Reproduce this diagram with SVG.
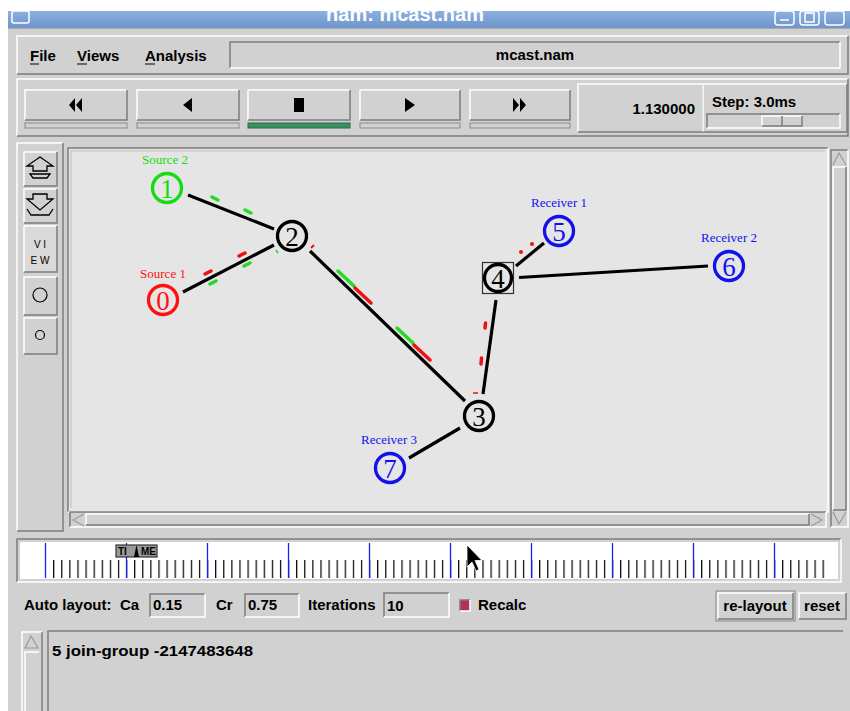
<svg xmlns="http://www.w3.org/2000/svg" width="850" height="711" viewBox="0 0 850 711">
<defs>
<style>
.ui{font-family:"Liberation Sans",Arial,sans-serif;font-weight:bold;font-size:15px;fill:#000}
.num{font-family:"Liberation Serif","Times New Roman",serif;font-size:27px;text-anchor:middle}
.lbl{font-family:"Liberation Serif","Times New Roman",serif;font-size:13px;text-anchor:middle}
.ring{fill:none;stroke-width:3.3}
.link{stroke:#000;stroke-width:3.2;stroke-linecap:butt;fill:none}
.hi{stroke:#fff;fill:none;stroke-width:1.5}
.lo{stroke:#7c7c7c;fill:none;stroke-width:1.5}
.pk{stroke-width:3.5;stroke-linecap:round}
</style>
<linearGradient id="tb" x1="0" y1="0" x2="0" y2="1">
<stop offset="0" stop-color="#8db0e0"/><stop offset="1" stop-color="#6d94cc"/>
</linearGradient>
<clipPath id="tclip"><rect x="8" y="11" width="842" height="17"/></clipPath>
<pattern id="ticks" patternUnits="userSpaceOnUse" x="45" y="560" width="8.1" height="18">
<rect x="0" y="0" width="1.2" height="18" fill="#000"/>
</pattern>
</defs>
<rect width="850" height="711" fill="#fff"/>
<rect x="8" y="11" width="842" height="700" fill="#d1d1d1"/>
<!-- title bar -->
<rect x="8" y="11" width="842" height="17" fill="url(#tb)"/>
<rect x="12" y="11" width="17" height="12" rx="2" fill="none" stroke="#fff" stroke-width="1.5"/>
<text x="405" y="21" clip-path="url(#tclip)" text-anchor="middle" style="font-family:'Liberation Sans',Arial,sans-serif;font-weight:bold;font-size:20px;fill:#fff">nam: mcast.nam</text>
<rect x="775" y="11" width="19" height="14" rx="3" fill="none" stroke="#fff" stroke-width="1.5"/>
<rect x="800" y="11" width="19" height="14" rx="3" fill="none" stroke="#fff" stroke-width="1.5"/>
<rect x="825" y="11" width="19" height="14" rx="3" fill="none" stroke="#fff" stroke-width="1.5"/>
<path d="M780 20h9M805 13h9v9h-9z" stroke="#fff" stroke-width="1.5" fill="none"/>
<line x1="8" y1="28.5" x2="850" y2="28.5" stroke="#aaa"/>
<!-- menu bar -->
<path class="hi" d="M17 74V36H848"/>
<path class="lo" d="M17 74H848V36"/>
<text class="ui" x="30" y="61" font-size="16">File</text>
<text class="ui" x="77" y="61" font-size="16">Views</text>
<text class="ui" x="145" y="61" font-size="16">Analysis</text>
<path d="M30 64h9M77 64h10M145 64h10" stroke="#000" stroke-width="1.2"/>
<rect x="230" y="42" width="610" height="26" fill="#d1d1d1"/>
<path class="lo" d="M230 68V42H840"/>
<path class="hi" d="M230 68H840V42"/>
<text class="ui" x="535" y="60" text-anchor="middle" font-size="14">mcast.nam</text>
<!-- toolbar -->
<path class="hi" d="M17 136V79H848"/>
<path class="lo" d="M17 136H848V79"/>
<g id="btns">
<rect x="25" y="90" width="102" height="30" fill="#d1d1d1"/><path class="hi" d="M25 120V90H127"/><path class="lo" d="M25 120H127V90"/>
<rect x="137" y="90" width="102" height="30" fill="#d1d1d1"/><path class="hi" d="M137 120V90H239"/><path class="lo" d="M137 120H239V90"/>
<rect x="248" y="90" width="102" height="30" fill="#d1d1d1"/><path class="hi" d="M248 120V90H350"/><path class="lo" d="M248 120H350V90"/>
<rect x="360" y="90" width="100" height="30" fill="#d1d1d1"/><path class="hi" d="M360 120V90H460"/><path class="lo" d="M360 120H460V90"/>
<rect x="470" y="90" width="100" height="30" fill="#d1d1d1"/><path class="hi" d="M470 120V90H570"/><path class="lo" d="M470 120H570V90"/>
<rect x="25" y="123" width="102" height="5" fill="#d1d1d1" stroke="#8a8a8a"/>
<rect x="137" y="123" width="102" height="5" fill="#d1d1d1" stroke="#8a8a8a"/>
<rect x="248" y="123" width="102" height="5" fill="#3a9060" stroke="#2a6a48"/>
<rect x="360" y="123" width="100" height="5" fill="#d1d1d1" stroke="#8a8a8a"/>
<rect x="470" y="123" width="100" height="5" fill="#d1d1d1" stroke="#8a8a8a"/>
<path d="M69 105l6-7v14zM76 105l6-7v14zM183 105l9-7v14zM294 98h10v14h-10zM405 98l10 7-10 7zM513 98l6 7-6 7zM520 98l6 7-6 7z" fill="#000"/>
</g>
<rect x="578" y="84" width="125" height="48" fill="#d1d1d1"/><path class="hi" d="M578 132V84H703"/><path class="lo" d="M578 132H703V84"/>
<text class="ui" x="695" y="114" text-anchor="end" font-size="14">1.130000</text>
<rect x="703" y="84" width="144" height="48" fill="#d1d1d1"/><path class="hi" d="M703 132V84H847"/><path class="lo" d="M703 132H847V84"/>
<text class="ui" x="712" y="107" font-size="14">Step: 3.0ms</text>
<rect x="707" y="114" width="133" height="14" fill="#d1d1d1"/><path class="lo" d="M707 128V114H840"/><path class="hi" d="M707 128H840V114"/>
<rect x="762" y="116" width="40" height="10" fill="#d1d1d1"/><path class="hi" d="M762 126V116H802"/><path class="lo" d="M762 126H802V116M782 116V126"/>
<!-- left panel -->
<path class="hi" d="M17 531V143H63"/>
<path class="lo" d="M17 531H63V143"/>
<g id="tools">
<rect x="24" y="152" width="33" height="34" fill="#d1d1d1"/><path class="hi" d="M24 186V152H57"/><path class="lo" d="M24 186H57V152"/>
<path d="M40 157l-13 9h6v5h14v-5h6zM30 174h20l-3 4h-14z" fill="none" stroke="#000" stroke-width="1.3"/>
<rect x="24" y="189" width="33" height="34" fill="#d1d1d1"/><path class="hi" d="M24 223V189H57"/><path class="lo" d="M24 223H57V189"/>
<path d="M33 194h14v5h6l-13 11-13-11h6zM27 209l4 6h18l4-6" fill="none" stroke="#000" stroke-width="1.3"/>
<rect x="24" y="226" width="33" height="46" fill="#dadada"/><path class="hi" d="M24 272V226H57"/><path class="lo" d="M24 272H57V226"/>
<text x="40" y="248" text-anchor="middle" style="font-family:'Liberation Sans',Arial,sans-serif;font-size:10px">V I</text>
<text x="40" y="264" text-anchor="middle" style="font-family:'Liberation Sans',Arial,sans-serif;font-size:10px">E W</text>
<rect x="24" y="277" width="33" height="38" fill="#d1d1d1"/><path class="hi" d="M24 315V277H57"/><path class="lo" d="M24 315H57V277"/>
<circle cx="40" cy="295" r="7" fill="none" stroke="#000" stroke-width="1.2"/>
<rect x="24" y="318" width="33" height="36" fill="#d1d1d1"/><path class="hi" d="M24 354V318H57"/><path class="lo" d="M24 354H57V318"/>
<circle cx="40" cy="335" r="4.5" fill="none" stroke="#000" stroke-width="1.2"/>
</g>
<!-- canvas -->
<rect x="68" y="148" width="760" height="364" fill="#e5e5e5"/>
<path class="lo" d="M68 512V148H828"/>
<path class="hi" d="M68 512H828V148"/>
<path d="M71 508V151H825" stroke="#bdbdbd" fill="none"/>
<!-- h scrollbar -->
<rect x="70" y="512" width="756" height="15" fill="#d1d1d1"/>
<path class="lo" d="M70 527V512H826"/><path class="hi" d="M70 527H826V512"/>
<rect x="86" y="514" width="723" height="11" fill="#d1d1d1"/><path class="hi" d="M86 525V514H809"/><path class="lo" d="M86 525H809V514"/>
<path d="M84 514l-11 6 11 6M811 514l11 6-11 6" fill="none" stroke="#999" stroke-width="1.2"/>
<!-- v scrollbar -->
<rect x="831" y="150" width="17" height="377" fill="#d1d1d1"/>
<path class="lo" d="M831 527V150H848"/><path class="hi" d="M831 527H848V150"/>
<path class="hi" d="M833 510V167H846"/><path class="lo" d="M833 510H846V167"/>
<path d="M833 165l6-12 7 12M833 512l6 12 7-12" fill="none" stroke="#999" stroke-width="1.2"/>
<!-- connectors -->
<g id="links">
<line class="link" x1="188" y1="195" x2="274" y2="229"/>
<line class="link" x1="183" y1="292" x2="274" y2="245"/>
<line class="link" x1="310" y1="251" x2="465" y2="401"/>
<line class="link" x1="483" y1="394" x2="496" y2="300"/>
<line class="link" x1="516" y1="266" x2="544" y2="243"/>
<line class="link" x1="519" y1="277.5" x2="708" y2="266"/>
<line class="link" x1="460" y1="428" x2="409" y2="458"/>
</g>
<g id="packets">
<line class="pk" stroke="#22dd22" x1="212" y1="197" x2="218" y2="200"/>
<line class="pk" stroke="#22dd22" x1="245" y1="210" x2="251" y2="213"/>
<line class="pk" stroke="#ee1111" x1="205" y1="274" x2="211" y2="271"/>
<line class="pk" stroke="#22dd22" x1="210" y1="284" x2="216" y2="281"/>
<line class="pk" stroke="#ee1111" x1="239" y1="256" x2="245" y2="253"/>
<line class="pk" stroke="#22dd22" x1="244" y1="266" x2="250" y2="263"/>
<line stroke="#22dd22" stroke-width="1.5" x1="276" y1="250" x2="278" y2="253"/>
<line stroke="#ee1111" stroke-width="2" x1="311" y1="248" x2="314" y2="245"/>
<line class="pk" stroke="#22dd22" stroke-width="4" stroke-linecap="butt" x1="338" y1="271" x2="354" y2="286"/>
<line class="pk" stroke="#ee1111" stroke-width="4" stroke-linecap="butt" x1="355" y1="288" x2="371" y2="303"/>
<line class="pk" stroke="#22dd22" stroke-width="4" stroke-linecap="butt" x1="397" y1="328" x2="413" y2="343"/>
<line class="pk" stroke="#ee1111" stroke-width="4" stroke-linecap="butt" x1="414" y1="345" x2="430" y2="360"/>
<line class="pk" stroke="#ee1111" x1="485.5" y1="323" x2="485" y2="328"/>
<line class="pk" stroke="#ee1111" x1="481.5" y1="358" x2="481" y2="364"/>
<line stroke="#ee1111" stroke-width="1.5" x1="473" y1="393" x2="478" y2="393"/>
<circle cx="521" cy="252" r="2" fill="#ee1111"/>
<circle cx="532" cy="244" r="2" fill="#ee1111"/>
</g>
<!-- nodes -->
<g id="node0">
<circle class="ring" cx="163" cy="300" r="14.5" stroke="#ff1111"/>
<text class="num" x="163" y="309.5" fill="#ff1111">0</text>
<text class="lbl" x="163" y="278" fill="#ff1111">Source 1</text>
</g>
<g id="node1">
<circle class="ring" cx="167" cy="188" r="14.5" stroke="#11dd11"/>
<text class="num" x="167" y="197.5" fill="#11dd11">1</text>
<text class="lbl" x="165" y="164" fill="#11dd11">Source 2</text>
</g>
<g id="node2">
<circle class="ring" cx="292" cy="236" r="14.5" stroke="#000"/>
<text class="num" x="292" y="245.5" fill="#000">2</text>
</g>
<g id="node3">
<circle class="ring" cx="479" cy="416" r="14.5" stroke="#000"/>
<text class="num" x="479" y="425.5" fill="#000">3</text>
</g>
<g id="node4">
<rect x="482.5" y="262.5" width="31" height="31" fill="none" stroke="#333" stroke-width="1.2"/>
<circle class="ring" cx="498" cy="278" r="13.5" stroke="#000"/>
<text class="num" x="498" y="287.5" fill="#000">4</text>
</g>
<g id="node5">
<circle class="ring" cx="559" cy="231" r="14.5" stroke="#1111ee"/>
<text class="num" x="559" y="240.5" fill="#1111ee">5</text>
<text class="lbl" x="559" y="207" fill="#1111ee">Receiver 1</text>
</g>
<g id="node6">
<circle class="ring" cx="729" cy="266" r="14.5" stroke="#1111ee"/>
<text class="num" x="729" y="275.5" fill="#1111ee">6</text>
<text class="lbl" x="729" y="242" fill="#1111ee">Receiver 2</text>
</g>
<g id="node7">
<circle class="ring" cx="390" cy="468" r="14.5" stroke="#1111ee"/>
<text class="num" x="390" y="477.5" fill="#1111ee">7</text>
<text class="lbl" x="389" y="444" fill="#1111ee">Receiver 3</text>
</g>
<!-- timeline -->
<rect x="17" y="539" width="824" height="43" fill="#d1d1d1"/>
<path class="lo" d="M17 582V539H841"/><path class="hi" d="M17 582H841V539"/>
<rect x="20" y="542" width="818" height="37" fill="#fff"/>
<rect x="50" y="560" width="775" height="18" fill="url(#ticks)"/>
<path d="M45.5 543v35M126.5 543v35M207.5 543v35M288.5 543v35M369.5 543v35M450.5 543v35M531.5 543v35M612.5 543v35M693.5 543v35M774.5 543v35" stroke="#2020ee" stroke-width="1.3"/>
<g id="timemarker">
<rect x="116" y="545" width="41" height="12" fill="#9a9a9a" stroke="#333" stroke-width="1.2"/>
<text x="118" y="555" style="font-family:'Liberation Sans',Arial,sans-serif;font-weight:bold;font-size:10px;fill:#000">TI</text>
<text x="141" y="555" style="font-family:'Liberation Sans',Arial,sans-serif;font-weight:bold;font-size:10px;fill:#000">ME</text>
<path d="M136.5 545l-2.5 12h5z" fill="#000"/>
</g>
<path d="M467 545v22l5-5 4 9 3-1.5-4-9h7z" fill="#000" stroke="#fff" stroke-width="0.8"/>
<!-- auto layout row -->
<text class="ui" x="24" y="610" font-size="14">Auto layout:</text>
<text class="ui" x="120" y="610" font-size="14">Ca</text>
<rect x="150" y="594" width="55" height="23" fill="#d1d1d1"/><path class="lo" d="M150 617V594H205"/><path class="hi" d="M150 617H205V594"/>
<text class="ui" x="153" y="610" font-size="14" font-weight="normal">0.15</text>
<text class="ui" x="216" y="610" font-size="14">Cr</text>
<rect x="245" y="594" width="54" height="23" fill="#d1d1d1"/><path class="lo" d="M245 617V594H299"/><path class="hi" d="M245 617H299V594"/>
<text class="ui" x="248" y="610" font-size="14" font-weight="normal">0.75</text>
<text class="ui" x="308" y="610" font-size="14">Iterations</text>
<rect x="384" y="593" width="65" height="24" fill="#d1d1d1"/><path class="lo" d="M384 617V593H449"/><path class="hi" d="M384 617H449V593"/>
<text class="ui" x="387" y="611" font-size="16" font-weight="normal">10</text>
<rect x="460" y="600" width="10" height="11" fill="#b5305c"/><path class="lo" d="M460 611V600H470"/><path class="hi" d="M460 611H470V600"/>
<text class="ui" x="478" y="610" font-size="14">Recalc</text>
<rect x="716" y="591" width="79" height="30" fill="none" stroke="#8a8a8a"/>
<rect x="718" y="593" width="75" height="26" fill="#d1d1d1"/><path class="hi" d="M718 619V593H793"/><path class="lo" d="M718 619H793V593"/>
<text class="ui" x="755" y="611" text-anchor="middle" font-size="14">re-layout</text>
<rect x="799" y="593" width="47" height="26" fill="#d1d1d1"/><path class="hi" d="M799 619V593H846"/><path class="lo" d="M799 619H846V593"/>
<text class="ui" x="822" y="611" text-anchor="middle" font-size="14">reset</text>
<!-- message area -->
<rect x="22" y="632" width="20" height="79" fill="#d1d1d1"/>
<path class="hi" d="M22 711V632H42"/><path class="lo" d="M42 632V711"/>
<path d="M25 648l6-12 7 12z" fill="none" stroke="#999" stroke-width="1.2"/>
<path class="hi" d="M25 711V652H39"/>
<rect x="47" y="630" width="796" height="81" fill="#d1d1d1"/>
<path class="lo" d="M48 711V631H843" stroke-width="2.5"/>
<text class="ui" x="52" y="656" font-size="16" font-weight="normal" textLength="201" lengthAdjust="spacingAndGlyphs">5 join-group -2147483648</text>
</svg>
